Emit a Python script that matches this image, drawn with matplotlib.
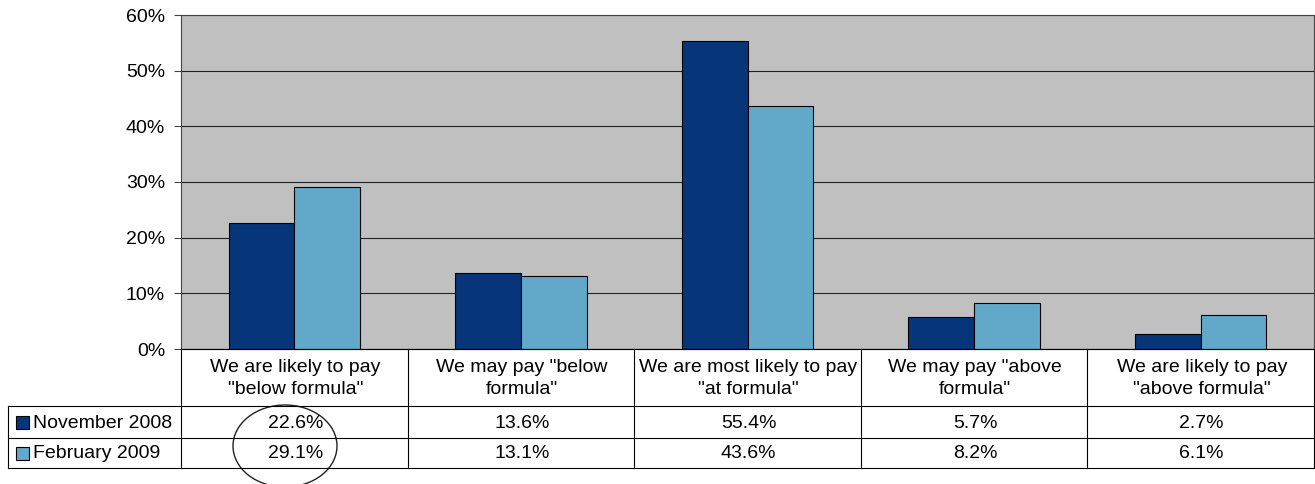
import matplotlib.pyplot as plt
import numpy as np
from matplotlib.patches import Ellipse, Rectangle

plt.rcParams['font.family'] = ['Liberation Sans', 'DejaVu Sans']

categories = ['We are likely to pay\n"below formula"',
              'We may pay "below\nformula"',
              'We are most likely to pay\n"at formula"',
              'We may pay "above\nformula"',
              'We are likely to pay\n"above formula"']
series_names = ['November 2008', 'February 2009']
nov_2008 = [22.6, 13.6, 55.4, 5.7, 2.7]
feb_2009 = [29.1, 13.1, 43.6, 8.2, 6.1]
colors = ['#06357A', '#62A8C8']

FS = 14
W, H = 1315, 484
fig = plt.figure(figsize=(W / 100, H / 100), dpi=100)

# plot area in pixels: left, top, right, bottom
pl, pt, pr, pb = 181, 15, 1314, 349
ax = fig.add_axes([pl / W, 1 - pb / H, (pr - pl) / W, (pb - pt) / H])
ax.set_facecolor('#C0C0C0')

x = np.arange(len(categories))
bw = 0.29
ax.bar(x - bw / 2, nov_2008, bw, color=colors[0], edgecolor='black', linewidth=0.8, zorder=3)
ax.bar(x + bw / 2, feb_2009, bw, color=colors[1], edgecolor='black', linewidth=0.8, zorder=3)

ax.set_xlim(-0.5, len(categories) - 0.5)
ax.set_ylim(0, 60)
ax.set_yticks(range(0, 61, 10))
ax.set_yticklabels([f'{v}%' for v in range(0, 61, 10)], fontsize=FS)
ax.set_xticks([])
ax.yaxis.grid(True, color='#222222', linewidth=0.8, zorder=1)
ax.tick_params(axis='y', length=5, width=0.8, color='#444444', pad=6.5)
for s in ax.spines.values():
    s.set_color('#444444')
    s.set_linewidth(0.8)

# data table underneath, drawn in pixel coordinates
tab = fig.add_axes([0, 0, 1, 1], zorder=5)
tab.set_xlim(0, W)
tab.set_ylim(H, 0)
tab.axis('off')

col_w = (pr - pl) / len(categories)
edges = [pl + i * col_w for i in range(len(categories) + 1)]
y_head, y_r1, y_r2 = 406, 438, 468
lx = 8
lc = 'black'
lw = 0.8

# grid lines of the table
for e in edges[:-1]:
    tab.plot([e, e], [pb, y_r2], color=lc, lw=lw)
tab.plot([pr, pr], [pb, y_r2], color=lc, lw=lw)
tab.plot([pl, pr], [pb, pb], color=lc, lw=lw)
for yy in (y_head, y_r1, y_r2):
    tab.plot([lx, pr], [yy, yy], color=lc, lw=lw)
tab.plot([lx, lx], [y_head, y_r2], color=lc, lw=lw)

for i, cat in enumerate(categories):
    cx = (edges[i] + edges[i + 1]) / 2 + 1
    tab.text(cx, (pb + y_head) / 2 + 1, cat, ha='center', va='center',
             fontsize=FS, linespacing=1.35)
    tab.text(cx, (y_head + y_r1) / 2 + 1, f'{nov_2008[i]:.1f}%', ha='center',
             va='center', fontsize=FS)
    tab.text(cx, (y_r1 + y_r2) / 2 + 1, f'{feb_2009[i]:.1f}%', ha='center',
             va='center', fontsize=FS)

# row legend keys
for name, c, (y0, y1) in zip(series_names, colors, [(y_head, y_r1), (y_r1, y_r2)]):
    cy = (y0 + y1) / 2
    tab.add_patch(Rectangle((16, cy - 6.5), 13, 13, facecolor=c, edgecolor='black', lw=0.8))
    tab.text(33, cy + 1, name, ha='left', va='center', fontsize=FS)

# hand-drawn ellipse around the first column values
tab.add_patch(Ellipse((285, 446), 104, 82, fill=False, edgecolor='#222222', lw=1.0))

fig.savefig('out.png', dpi=100, facecolor='white')
